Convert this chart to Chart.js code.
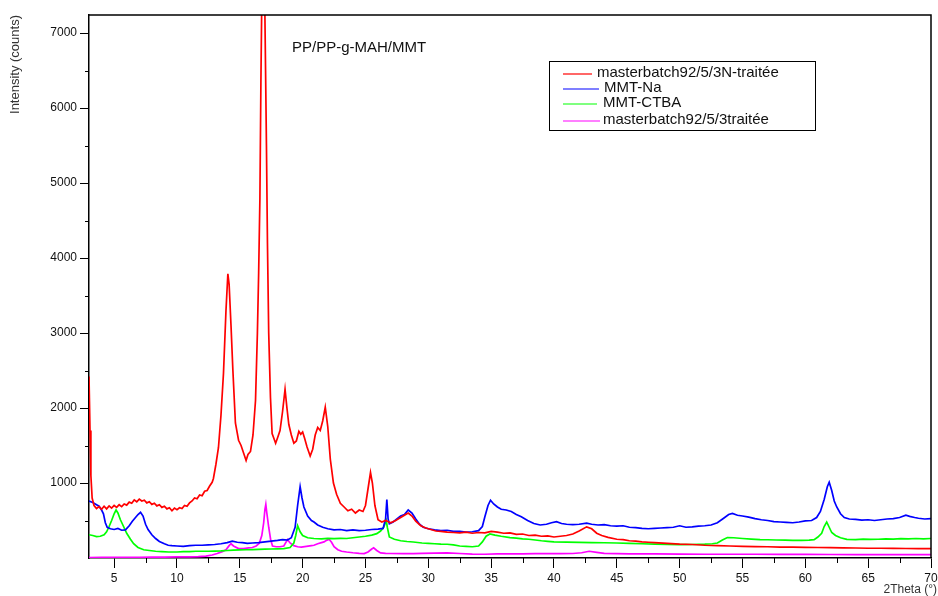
<!DOCTYPE html>
<html>
<head>
<meta charset="utf-8">
<script src="https://cdn.jsdelivr.net/npm/chart.js@4/dist/chart.umd.min.js"></script>
<style>
  body { margin: 0; background: #fff; }
</style>
</head>
<body>
<canvas id="chart" width="938" height="596"></canvas>
<script>
// XRD patterns, [2theta, intensity]
const chartTitle = "PP/PP-g-MAH/MMT";
const seriesNames = ["masterbatch92/5/3N-traitée", "MMT-Na", "MMT-CTBA", "masterbatch92/5/3traitée"];
const seriesColors = ["#ff0000", "#0000ff", "#00ff00", "#ff00ff"];

const mbN = [[3.0,2420],[3.08,1700],[3.15,1100],[3.25,800],[3.4,700],[3.6,660],[3.8,685],[4.0,650],[4.2,690],[4.4,655],[4.6,695],[4.8,665],[5.0,700],[5.2,675],[5.4,710],[5.6,685],[5.8,720],[6.0,705],[6.2,745],[6.4,730],[6.6,775],[6.8,750],[7.0,785],[7.2,760],[7.4,770],[7.6,735],[7.8,750],[8.0,715],[8.2,730],[8.4,695],[8.6,710],[8.8,675],[9.0,690],[9.2,655],[9.4,670],[9.6,630],[9.8,665],[10.0,645],[10.2,670],[10.4,660],[10.6,700],[10.8,690],[11.0,735],[11.2,760],[11.4,800],[11.6,790],[11.8,840],[12.0,830],[12.2,890],[12.4,900],[12.6,960],[12.8,1010],[12.9,1060],[13.1,1250],[13.3,1470],[13.5,1900],[13.7,2460],[13.9,3300],[14.05,3790],[14.15,3650],[14.3,3100],[14.45,2500],[14.65,1800],[14.9,1570],[15.1,1500],[15.3,1400],[15.5,1300],[15.65,1380],[15.85,1420],[16.05,1640],[16.25,2100],[16.4,3000],[16.5,3800],[16.6,4800],[16.68,6360],[16.76,7600],[16.85,8300],[16.95,7900],[17.05,6500],[17.12,5500],[17.2,4200],[17.3,3000],[17.44,2140],[17.57,1660],[17.7,1600],[17.85,1530],[18.0,1600],[18.2,1700],[18.4,1950],[18.6,2250],[18.75,2000],[18.9,1780],[19.1,1640],[19.3,1530],[19.5,1560],[19.7,1690],[19.85,1650],[20.0,1680],[20.15,1600],[20.35,1480],[20.6,1360],[20.8,1450],[21.0,1640],[21.2,1740],[21.4,1700],[21.6,1830],[21.8,2010],[22.0,1750],[22.2,1320],[22.45,1000],[22.7,850],[23.0,730],[23.3,680],[23.6,630],[23.9,650],[24.2,600],[24.5,640],[24.8,620],[25.0,700],[25.2,920],[25.4,1140],[25.55,1000],[25.75,700],[26.0,510],[26.3,480],[26.6,500],[27.0,470],[27.4,500],[27.8,540],[28.1,570],[28.4,600],[28.7,560],[29.0,490],[29.4,430],[29.8,400],[30.2,380],[30.6,360],[31.0,355],[31.5,345],[32.0,340],[32.5,335],[33.0,345],[33.5,330],[34.0,340],[34.5,335],[35.0,355],[35.5,345],[36.0,330],[36.5,335],[37.0,315],[37.5,320],[38.0,300],[38.5,305],[39.0,290],[39.5,295],[40.0,280],[40.5,290],[41.0,300],[41.5,320],[42.0,360],[42.6,415],[43.0,390],[43.4,330],[43.8,300],[44.3,275],[45.0,250],[45.5,245],[46.0,230],[46.5,225],[47.0,215],[47.5,210],[48.0,205],[49.0,195],[50.0,185],[51.0,180],[52.0,170],[53.0,165],[54.0,160],[55.0,155],[56.0,152],[57.0,150],[58.0,146],[59.0,145],[60.0,142],[61.0,140],[62.0,138],[63.0,135],[64.0,133],[65.0,130],[66.0,130],[67.0,128],[68.0,127],[69.0,126],[70.0,125]];

const mmtNa = [[3.0,760],[3.3,740],[3.6,710],[3.8,690],[4.0,640],[4.15,590],[4.3,470],[4.45,410],[4.7,390],[5.0,380],[5.3,395],[5.6,370],[5.9,375],[6.2,430],[6.45,490],[6.7,540],[6.9,580],[7.1,610],[7.3,560],[7.5,450],[7.7,380],[8.0,310],[8.3,260],[8.6,220],[9.0,190],[9.3,170],[9.6,165],[10.0,160],[10.5,155],[11.0,165],[11.5,170],[12.0,170],[12.5,175],[13.0,180],[13.5,190],[14.0,205],[14.4,225],[14.8,210],[15.2,205],[15.6,195],[16.0,200],[16.5,205],[17.0,215],[17.5,225],[18.0,235],[18.4,245],[18.8,240],[19.1,270],[19.4,410],[19.6,700],[19.8,950],[19.95,800],[20.1,680],[20.4,560],[20.7,500],[20.9,480],[21.2,440],[21.6,410],[22.0,390],[22.5,375],[23.0,380],[23.5,365],[24.0,375],[24.5,365],[25.0,370],[25.5,380],[26.0,385],[26.4,395],[26.6,520],[26.7,780],[26.8,520],[26.9,455],[27.2,480],[27.5,520],[27.8,560],[28.1,580],[28.4,640],[28.7,600],[29.0,520],[29.3,450],[29.6,410],[30.0,390],[30.5,375],[31.0,365],[31.5,370],[32.0,355],[32.5,355],[33.0,345],[33.5,350],[34.0,365],[34.3,420],[34.5,550],[34.75,700],[34.95,770],[35.2,720],[35.5,680],[35.8,650],[36.2,640],[36.6,620],[37.0,580],[37.4,550],[37.9,500],[38.4,460],[38.9,440],[39.4,450],[39.8,470],[40.2,485],[40.6,460],[41.0,450],[41.5,445],[42.0,450],[42.6,465],[43.0,450],[43.5,440],[44.0,445],[44.5,430],[45.0,425],[45.5,430],[46.0,410],[46.5,405],[47.0,395],[47.5,390],[48.0,395],[48.5,400],[49.0,405],[49.5,410],[50.0,430],[50.5,410],[51.0,415],[51.5,425],[52.0,430],[52.5,440],[53.0,470],[53.5,530],[53.9,580],[54.2,595],[54.6,570],[55.0,560],[55.5,545],[56.0,525],[56.5,510],[57.0,500],[57.5,485],[58.0,480],[58.5,475],[59.0,470],[59.5,480],[60.0,495],[60.5,500],[60.9,540],[61.2,620],[61.5,780],[61.75,950],[61.9,1010],[62.1,900],[62.3,760],[62.5,680],[62.8,590],[63.1,540],[63.5,520],[64.0,515],[64.5,505],[65.0,510],[65.5,500],[66.0,510],[66.5,520],[67.0,525],[67.5,540],[68.0,570],[68.3,555],[68.7,540],[69.0,530],[69.5,520],[70.0,525]];

const mmtCtba = [[3.0,310],[3.3,300],[3.6,285],[3.9,290],[4.2,310],[4.4,350],[4.6,420],[4.8,500],[5.0,590],[5.15,640],[5.3,600],[5.5,510],[5.75,420],[6.0,330],[6.3,250],[6.55,190],[6.9,140],[7.35,110],[7.8,100],[8.3,90],[8.8,85],[9.35,80],[10.0,80],[10.5,85],[11.0,85],[11.5,90],[12.0,90],[12.5,90],[13.0,92],[13.5,95],[14.0,100],[14.5,105],[15.0,108],[15.5,110],[16.0,112],[16.5,115],[17.0,118],[17.5,120],[18.0,122],[18.5,125],[19.0,140],[19.3,200],[19.45,300],[19.6,430],[19.8,350],[20.0,300],[20.4,270],[20.9,260],[21.5,255],[22.0,262],[22.5,258],[23.0,262],[23.5,260],[24.0,270],[24.5,280],[25.0,290],[25.5,305],[25.9,325],[26.2,360],[26.45,410],[26.65,500],[26.75,400],[26.9,280],[27.3,250],[27.8,230],[28.3,220],[28.8,213],[29.5,200],[30.0,195],[30.5,190],[31.0,185],[31.5,183],[32.0,175],[32.5,160],[33.0,155],[33.5,150],[34.0,160],[34.3,215],[34.6,290],[34.9,320],[35.3,305],[35.8,290],[36.5,272],[37.0,265],[37.5,255],[38.0,250],[38.5,240],[39.0,230],[39.5,222],[40.0,215],[41.0,212],[42.0,208],[43.0,205],[44.0,203],[45.0,200],[46.0,195],[47.0,190],[48.0,185],[49.0,182],[50.0,178],[51.0,180],[52.0,184],[52.6,190],[53.0,200],[53.4,240],[53.8,272],[54.3,270],[55.0,260],[55.7,252],[56.4,245],[57.0,243],[57.7,240],[58.4,238],[59.0,236],[59.7,235],[60.3,238],[60.7,245],[61.0,280],[61.3,330],[61.5,420],[61.7,480],[61.9,410],[62.1,340],[62.4,300],[62.8,270],[63.3,248],[64.0,245],[64.6,252],[65.2,248],[65.8,250],[66.4,255],[67.0,252],[67.6,258],[68.2,255],[68.8,260],[69.4,256],[70.0,260]];

const mb = [[3.0,5],[4.0,8],[5.0,10],[6.0,10],[7.0,10],[8.0,12],[9.0,12],[10.0,14],[11.0,15],[11.7,18],[12.3,25],[12.8,40],[13.2,60],[13.6,85],[13.9,110],[14.15,165],[14.3,190],[14.5,160],[14.9,125],[15.3,125],[15.7,135],[16.0,140],[16.3,160],[16.55,195],[16.75,300],[16.9,470],[17.0,650],[17.07,715],[17.15,600],[17.3,410],[17.45,250],[17.6,160],[17.9,150],[18.2,150],[18.5,160],[18.8,245],[19.0,200],[19.3,165],[19.6,150],[19.9,145],[20.3,155],[20.7,165],[20.9,170],[21.2,190],[21.5,205],[21.7,215],[21.9,235],[22.1,250],[22.3,210],[22.5,150],[22.8,110],[23.1,90],[23.5,80],[24.0,70],[24.5,62],[24.9,58],[25.2,80],[25.5,120],[25.65,135],[25.9,100],[26.2,68],[26.6,62],[27.0,60],[28.0,58],[28.8,58],[29.5,62],[30.5,66],[31.5,67],[32.5,60],[33.5,52],[34.5,50],[35.5,55],[36.5,55],[37.5,56],[38.5,58],[39.5,58],[40.5,58],[41.5,60],[42.2,70],[42.8,90],[43.4,75],[44.0,62],[45.0,58],[46.0,55],[47.0,55],[48.0,55],[50.0,52],[52.0,50],[54.0,50],[56.0,50],[58.0,48],[60.0,48],[62.0,47],[64.0,46],[66.0,46],[68.0,45],[70.0,45]];

const xTicks = [5, 10, 15, 20, 25, 30, 35, 40, 45, 50, 55, 60, 65, 70];
const xMinor = [7.5, 12.5, 17.5, 22.5, 27.5, 32.5, 37.5, 42.5, 47.5, 52.5, 57.5, 62.5, 67.5];
const yTicks = [1000, 2000, 3000, 4000, 5000, 6000, 7000];
const yMinor = [500, 1500, 2500, 3500, 4500, 5500, 6500];

const FONT = '"Liberation Sans", Arial, sans-serif';
Chart.defaults.font.family = FONT;

const extras = {
    id: "extras",
    afterDraw(chart) {
        const { ctx, chartArea: a, scales: { x, y } } = chart;
        ctx.save();

        // frame top and right
        ctx.strokeStyle = "#000";
        ctx.lineWidth = 1.5;
        ctx.beginPath();
        ctx.moveTo(a.left, a.top);
        ctx.lineTo(a.right, a.top);
        ctx.lineTo(a.right, a.bottom);
        ctx.stroke();

        // minor ticks
        ctx.lineWidth = 1;
        ctx.beginPath();
        xMinor.forEach(v => {
            const px = Math.round(x.getPixelForValue(v)) + 0.5;
            ctx.moveTo(px, a.bottom);
            ctx.lineTo(px, a.bottom + 5);
        });
        yMinor.forEach(v => {
            const py = Math.round(y.getPixelForValue(v)) + 0.5;
            ctx.moveTo(a.left, py);
            ctx.lineTo(a.left - 4, py);
        });
        ctx.stroke();

        // title
        ctx.fillStyle = "#111";
        ctx.font = "15px " + FONT;
        ctx.textBaseline = "middle";
        ctx.textAlign = "left";
        ctx.fillText(chartTitle, 292, 48);

        // axis titles
        ctx.fillStyle = "#333";
        ctx.font = "12px " + FONT;
        ctx.textAlign = "right";
        ctx.fillText("2Theta (°)", 937, 590);

        ctx.save();
        ctx.translate(15, 15);
        ctx.rotate(-Math.PI / 2);
        ctx.font = "13px " + FONT;
        ctx.textAlign = "right";
        ctx.fillText("Intensity (counts)", 0, 0);
        ctx.restore();

        // legend box
        ctx.strokeStyle = "#000";
        ctx.lineWidth = 1;
        ctx.strokeRect(549.5, 61.5, 266, 69);
        ctx.font = "15px " + FONT;
        ctx.textAlign = "left";
        ctx.textBaseline = "alphabetic";
        const rows = [77, 92, 107, 124];
        const lineEnd = [592, 599, 597, 600];
        const textStart = [597, 604, 603, 603];
        chart.data.datasets.forEach((ds, i) => {
            const ly = rows[i] - 3;
            ctx.strokeStyle = ds.borderColor;
            ctx.lineWidth = 1.2;
            ctx.beginPath();
            ctx.moveTo(563, ly);
            ctx.lineTo(lineEnd[i], ly);
            ctx.stroke();
            ctx.fillStyle = "#111";
            ctx.fillText(ds.label, textStart[i], rows[i]);
        });

        ctx.restore();
    }
};

new Chart(document.getElementById("chart"), {
    type: "line",
    data: {
        datasets: [mbN, mmtNa, mmtCtba, mb].map((pts, i) => ({
            label: seriesNames[i],
            data: pts.map(([x, y]) => ({ x, y })),
            borderColor: seriesColors[i],
            borderWidth: 1.7,
            pointRadius: 0,
            tension: 0
        }))
    },
    options: {
        responsive: false,
        animation: false,
        layout: { padding: { top: 15, right: 7, left: 0, bottom: 0 } },
        plugins: {
            legend: { display: false },
            tooltip: { enabled: false }
        },
        scales: {
            x: {
                type: "linear",
                min: 3,
                max: 70,
                afterBuildTicks: s => { s.ticks = xTicks.map(v => ({ value: v })); },
                afterFit: s => { s.height = 38; s.paddingLeft = 0; s.paddingRight = 0; },
                ticks: {
                    autoSkip: false,
                    maxRotation: 0,
                    padding: 3,
                    color: "#111",
                    font: { size: 12 },
                    callback: v => String(v)
                },
                grid: { drawOnChartArea: false, tickLength: 10, tickColor: "#000", tickWidth: 1 },
                border: { color: "#000", width: 1.5 }
            },
            y: {
                min: 0,
                max: 7240,
                afterBuildTicks: s => { s.ticks = yTicks.map(v => ({ value: v })); },
                afterFit: s => { s.width = 89; s.paddingTop = 0; s.paddingBottom = 0; },
                ticks: {
                    autoSkip: false,
                    padding: 3,
                    color: "#111",
                    font: { size: 12 },
                    callback: v => String(v)
                },
                grid: { drawOnChartArea: false, tickLength: 9, tickColor: "#000", tickWidth: 1 },
                border: { color: "#000", width: 1.5 }
            }
        }
    },
    plugins: [extras]
});
</script>
</body>
</html>
